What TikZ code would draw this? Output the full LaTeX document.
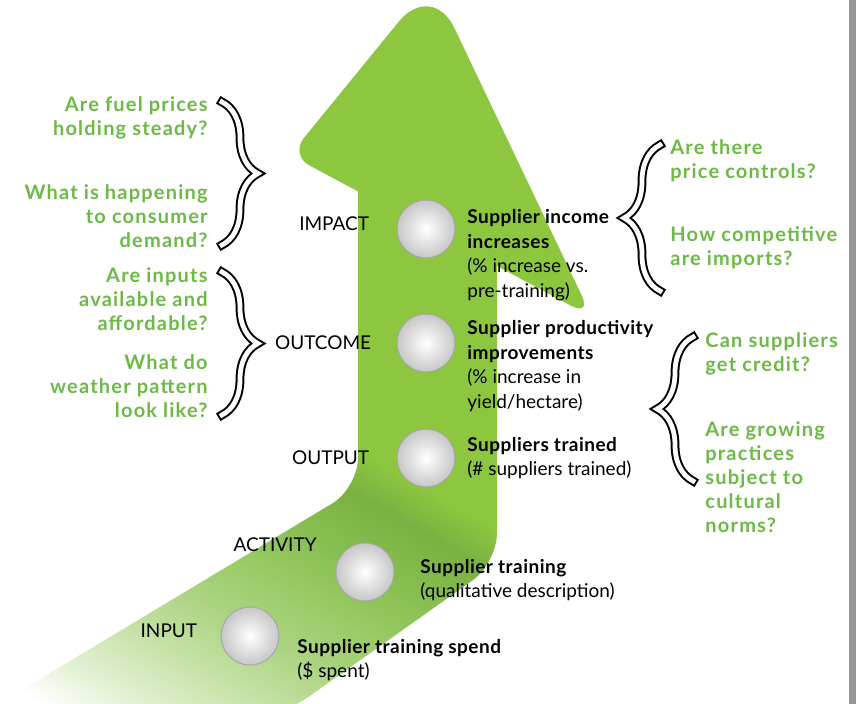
\documentclass[tikz,border=0pt]{standalone}
\usepackage{fontspec}
\setmainfont{Lato}
\newfontfamily\qfont{Lato}[LetterSpace=6]
\newfontfamily\hfont{Lato}[LetterSpace=2.5]
\newcommand{\hd}[1]{{\hfont\bfseries #1}}
\usepackage{tikz}
\usetikzlibrary{positioning, decorations.pathreplacing}
\definecolor{arrowgreen}{RGB}{141,198,63}
\definecolor{bendgreen}{RGB}{121,177,66}
\definecolor{fadeA}{RGB}{134,189,78}
\definecolor{fadeB}{RGB}{151,202,99}
\definecolor{fadeC}{RGB}{171,212,130}
\definecolor{fadeD}{RGB}{198,226,166}
\definecolor{fadeE}{RGB}{226,240,211}
\definecolor{qgreen}{RGB}{108,186,70}
\definecolor{bargray}{RGB}{147,149,152}
\pgfdeclarehorizontalshading{bandfade}{100bp}{color(0bp)=(white); color(35.9bp)=(white); color(39.1bp)=(fadeE); color(42.8bp)=(fadeD); color(46.6bp)=(fadeC); color(50.3bp)=(fadeB); color(54.1bp)=(fadeA); color(57.2bp)=(bendgreen); color(59.7bp)=(arrowgreen); color(100bp)=(arrowgreen)}

\begin{document}
\begin{tikzpicture}[
        x=0.5pt, y=-0.5pt,
        stage/.style={circle, minimum size=29pt, inner sep=0pt, draw=black!35, line width=0.5pt, inner color=white, outer color=black!22},
        level/.style={font=\fontsize{9.5}{12.25}\selectfont, inner sep=0pt},
        desc/.style={font=\fontsize{9.5}{12.25}\selectfont, align=left, anchor=west, inner sep=0pt},
        question/.style={font=\qfont\bfseries\fontsize{10}{12}\selectfont, text=qgreen, inner sep=0pt},
        bracket/.style={decorate, decoration={brace, amplitude=18pt}, draw=black, line width=1pt, double=white, double distance=2.4pt, line cap=rect}
    ]
    \useasboundingbox (0,0) rectangle (861,704);

    % arrow
    \begin{scope}
        \clip[rounded corners=15pt] (358,150) -- (358,488) -- (-20,715) -- (283,715) -- (497,563) -- (497,150) -- cycle;
        \shade[shading=bandfade, shading angle=60] (-160,160) rectangle (640,960);
    \end{scope}
    \fill[arrowgreen] (290,155) [rounded corners=26pt] -- (432,-19) [rounded corners=12pt] -- (592,317) [rounded corners=11pt] -- cycle;

    % right edge
    \fill[bargray] (849,0) rectangle (856,704);

    % stages
    \node[stage] (impact) at (426,229) {};
    \node[stage] (outcome) at (426,343) {};
    \node[stage] (output) at (426,458) {};
    \node[stage] (activity) at (365,572) {};
    \node[stage] (input) at (250,636) {};

    \node[level, left=13.5pt of impact, yshift=2.5pt] (impactlabel) {IMPACT};
    \node[level, left=12.5pt of outcome] (outcomelabel) {OUTCOME};
    \node[level, left=13.5pt of output] (outputlabel) {OUTPUT};
    \node[level, anchor=east] (activitylabel) at (317,545) {ACTIVITY};
    \node[level, left=11.5pt of input, yshift=2.5pt] (inputlabel) {INPUT};

    \node[desc] (impactdesc) at (467,255) {\hd{Supplier income}\\\hd{increases}\\(\% increase vs.\\pre-training)};
    \node[desc] (outcomedesc) at (467,366) {\hd{Supplier productivity}\\\hd{improvements}\\(\% increase in\\yield/hectare)};
    \node[desc] (outputdesc) at (467,458) {\hd{Suppliers trained}\\(\# suppliers trained)};
    \node[desc] (activitydesc) at (420,580) {\hd{Supplier training}\\(qualitative description)};
    \node[desc] (inputdesc) at (297,660) {\hd{Supplier training spend}\\(\$ spent)};

    % questions
    \node[question, align=right, anchor=east] (fuelq) at (208,118) {Are fuel prices\\holding steady?};
    \node[question, align=right, anchor=east] (demandq) at (208,216) {What is happening\\to consumer\\demand?};
    \node[question, align=right, anchor=east] (inputsq) at (208,299) {Are inputs\\available and\\affordable?};
    \node[question, align=right, anchor=east] (weatherq) at (208,386) {What do\\weather pattern\\look like?};
    \node[question, align=left, anchor=west] (pricesq) at (670,161) {Are there\\price controls?};
    \node[question, align=left, anchor=west] (importsq) at (670,248) {How competitive\\are imports?};
    \node[question, align=left, anchor=west] (creditq) at (705,354) {Can suppliers\\get credit?};
    \node[question, align=left, anchor=west] (normsq) at (705,477) {Are growing\\practices\\subject to\\cultural\\norms?};

    % braces
    \coordinate (b1top) at (222,102);
    \coordinate (b1bot) at (222,245);
    \coordinate (b2top) at (222,272);
    \coordinate (b2bot) at (222,415);
    \coordinate (b3top) at (660,145);
    \coordinate (b3bot) at (660,291);
    \coordinate (b4top) at (693,337);
    \coordinate (b4bot) at (693,481);
    \draw[bracket] (b1top) -- (b1bot);
    \draw[bracket] (b2top) -- (b2bot);
    \draw[bracket] (b3bot) -- (b3top);
    \draw[bracket] (b4bot) -- (b4top);

\end{tikzpicture}
\end{document}
